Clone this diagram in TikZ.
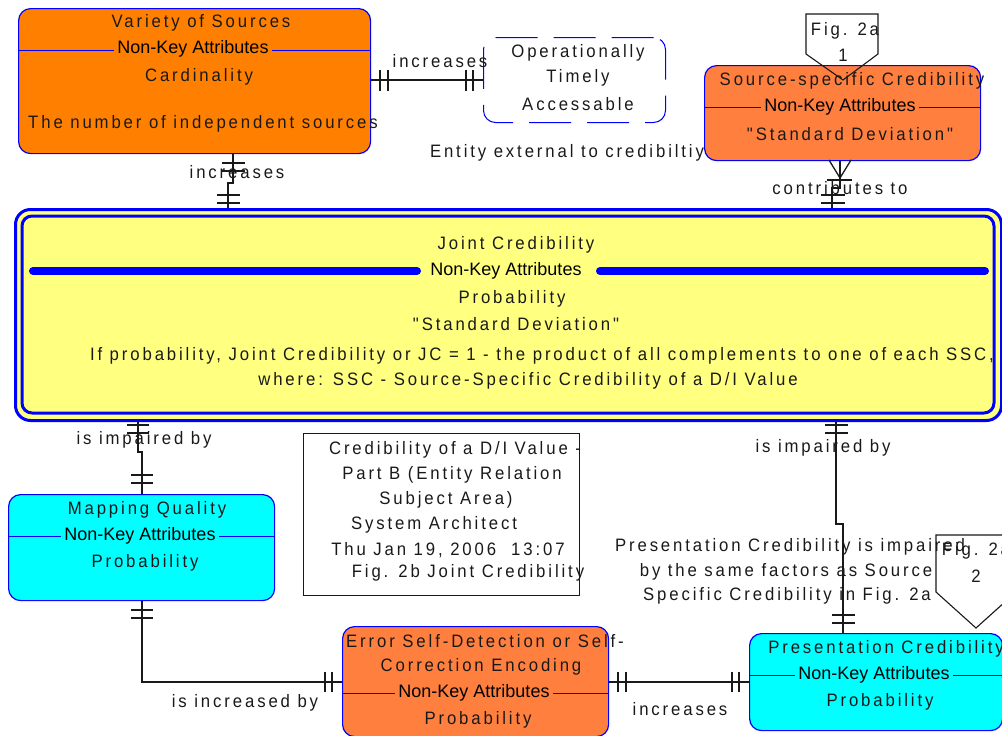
\documentclass[tikz,border=0pt]{standalone}
\usepackage{fontspec}
\setmainfont{Liberation Sans}
\newfontfamily\spfont[LetterSpace=16,FakeStretch=0.93]{Liberation Sans}
\definecolor{vsor}{RGB}{255,128,0}
\definecolor{coral}{RGB}{255,127,63}
\definecolor{cy}{RGB}{0,255,255}
\definecolor{yel}{RGB}{255,255,128}
\definecolor{bl}{RGB}{0,0,255}
\definecolor{ink}{RGB}{25,25,25}
\begin{document}
\begin{tikzpicture}[x=1pt,y=-1pt,
  ent/.style={draw=bl, line width=1.2pt, rounded corners=12pt, inner sep=0pt, anchor=north west},
  txt/.style={font=\spfont\fontsize{18}{21}\selectfont, text=ink, inner sep=0pt},
  nka/.style={font=\fontsize{18}{21}\selectfont, text=black, inner sep=3pt},
  sep/.style={draw=bl, line width=1pt},
  con/.style={draw=ink, line width=1.3pt},
  tick/.style={draw=ink, line width=1.3pt}]
\useasboundingbox (0,0) rectangle (1002,736);

% helper coordinates
\coordinate (x138) at (138,0);
\coordinate (x142) at (142,0);
\coordinate (x228) at (228,0);
\coordinate (x233) at (233,0);
\coordinate (x832) at (832,0);
\coordinate (x836) at (836,0);
\coordinate (x840) at (840,0);
\coordinate (x843) at (843,0);
\coordinate (y682) at (0,682);

% ===== Variety of Sources =====
\node[ent, fill=vsor, minimum width=352pt, minimum height=145pt] (vs) at (18,8) {};
\draw[sep] (vs.west |- 0,50) -- (vs.east |- 0,50);
\node[txt] (vs1) at (201,23) {Variety of Sources};
\node[nka, fill=vsor] (vs2) at (193,49) {Non-Key Attributes};
\node[txt] (vs3) at (199,77) {Cardinality};
\node[txt] (vs4) at (203,124) {The number of independent sources};

% ===== Operationally Timely Accessable =====
\node[ent, draw=bl, line width=1pt, dash pattern=on 42pt off 16pt, minimum width=182pt, minimum height=85pt] (ops) at (483,37) {};
\node[txt] (ops1) at (578,53) {Operationally};
\node[txt] (ops2) at (578,78) {Timely};
\node[txt] (ops3) at (578,104) {Accessable};
\node[txt] (extl) at (567,153) {Entity external to credibiltiy};

% ===== Source-specific Credibility =====
\node[ent, fill=coral, minimum width=276pt, minimum height=95pt] (ss) at (704,65) {};
\draw[sep] (ss.west |- 0,107) -- (ss.east |- 0,107);
\node[txt] (ss1) at (852,81) {Source-specific Credibility};
\node[nka, fill=coral] (ss2) at (840,107) {Non-Key Attributes};
\node[txt] (ss3) at (850,134) {"Standard Deviation"};
% off-page connector Fig. 2a 1
\draw[draw=ink, line width=1.1pt] (806,14) -- (878,14) -- (878,54) -- (843,80) -- (806,54) -- cycle;
\node[txt] (fig1a) at (845,31) {Fig. 2a};
\node[txt] (fig1b) at (843,55) {1};

% ===== Joint Credibility =====
\node[ent, fill=yel, line width=3pt, rounded corners=15pt, minimum width=986pt, minimum height=211pt] (joint) at (14,208) {};
\draw[draw=bl, line width=3pt, rounded corners=10pt] (22,216) rectangle (994,413);
\draw[draw=bl, line width=8pt, line cap=round] (33,271) -- (417,271);
\draw[draw=bl, line width=8pt, line cap=round] (600,271) -- (985,271);
\node[txt] (j1) at (516,245) {Joint Credibility};
\node[nka] (j2) at (506,271) {Non-Key Attributes};
\node[txt] (j3) at (512,299) {Probability};
\node[txt] (j4) at (516,324) {"Standard Deviation"};
\node[txt] (j5) at (542,356) {If probability, Joint Credibility or JC = 1 - the product of all complements to one of each SSC,};
\node[txt] (j6) at (528,381) {where: SSC - Source-Specific Credibility of a D/I Value};

% ===== Mapping Quality =====
\node[ent, fill=cy, minimum width=266pt, minimum height=106pt] (mq) at (8,494) {};
\draw[sep] (mq.west |- 0,536) -- (mq.east |- 0,536);
\node[txt] (mq1) at (147,510) {Mapping Quality};
\node[nka, fill=cy] (mq2) at (140,536) {Non-Key Attributes};
\node[txt] (mq3) at (145,563) {Probability};

% ===== Title box =====
\node[draw=ink, line width=1.1pt, minimum width=276pt, minimum height=162pt, anchor=north west, inner sep=0pt] (tb) at (303,433) {};
\node[txt] (tb1) at (455,450) {Credibility of a D/I Value -};
\node[txt] (tb2) at (452,475) {Part B (Entity Relation};
\node[txt] (tb3) at (446,500) {Subject Area)};
\node[txt] (tb4) at (434,525) {System Architect};
\node[txt] (tb5) at (448,550) {Thu Jan 19, 2006\ \ 13:07};
\node[txt] (tb6) at (468,573) {Fig. 2b Joint Credibility};

% ===== Error Self-Detection =====
\node[ent, fill=coral, minimum width=266pt, minimum height=110pt] (err) at (342,626) {};
\draw[sep] (err.west |- 0,693) -- (err.east |- 0,693);
\node[txt] (e1) at (485,641) {Error Self-Detection or Self-};
\node[txt] (e2) at (481,667) {Correction Encoding};
\node[nka, fill=coral] (e3) at (474,693) {Non-Key Attributes};
\node[txt] (e4) at (478,720) {Probability};

% ===== Presentation Credibility =====
\node[ent, fill=cy, minimum width=253pt, minimum height=97pt] (pc) at (749,633) {};
\draw[sep] (pc.west |- 0,675) -- (pc.east |- 0,675);
\node[txt] (p1) at (886,649) {Presentation Credibility};
\node[nka, fill=cy] (p2) at (874,675) {Non-Key Attributes};
\node[txt] (p3) at (880,702) {Probability};

% note
\node[txt] (n1) at (790,547) {Presentation Credibility is impaired};
\node[txt] (n2) at (786,572) {by the same factors as Source};
\node[txt] (n3) at (787,596) {Specific Credibility in Fig. 2a};
% off-page connector Fig. 2a 2
\draw[draw=ink, line width=1.1pt] (936,535) -- (1016,535) -- (1016,592) -- (976,628) -- (936,592) -- cycle;
\node[txt] (fig2a) at (976,551) {Fig. 2a};
\node[txt] (fig2b) at (976,576) {2};

% ===== connectors =====
% vs -> ops
\draw[con] (vs.east |- ops.west) -- (ops.west);
\foreach \x in {380,388,466,473} \draw[tick] (\x,70) -- (\x,91);
\node[txt] (l1) at (440,61) {increases};

% vs -> joint
\draw[con] (vs.south -| x233) -- (233,183) -- (228,183) -- (joint.north -| x228);
\foreach \y in {163,171} \draw[tick] (222,\y) -- (245,\y);
\foreach \y in {195,203} \draw[tick] (217,\y) -- (240,\y);
\node[txt] (l2) at (237,172) {increases};

% ss -> joint
\draw[con] (ss.south -| x840) -- (840,188) -- (832,188) -- (joint.north -| x832);
\draw[con] (829,160) -- (840,178) -- (851,160);
\draw[tick] (827,180) -- (852,180);
\foreach \y in {195,203} \draw[tick] (821,\y) -- (845,\y);
\node[txt] (l3) at (840,188) {contributes to};

% joint -> mq
\draw[con] (joint.south -| x138) -- (138,452) -- (142,452) -- (mq.north -| x142);
\foreach \y in {425,433} \draw[tick] (127,\y) -- (149,\y);
\foreach \y in {475,483} \draw[tick] (131,\y) -- (153,\y);
\node[txt] (l4) at (144,440) {is impaired by};

% mq -> err
\draw[con] (mq.south -| x142) -- (142,682) -- (err.west |- y682);
\foreach \y in {610,618} \draw[tick] (131,\y) -- (153,\y);
\foreach \x in {325,332} \draw[tick] (\x,672) -- (\x,692);
\node[txt] (l5) at (245,703) {is increased by};

% err -> pc
\draw[con] (err.east |- y682) -- (pc.west |- y682);
\foreach \x in {618,626,732,739} \draw[tick] (\x,672) -- (\x,692);
\node[txt] (l6) at (680,709) {increases};

% joint -> pc
\draw[con] (joint.south -| x836) -- (836,524) -- (843,524) -- (pc.north -| x843);
\foreach \y in {425,433} \draw[tick] (825,\y) -- (848,\y);
\foreach \y in {615,623} \draw[tick] (832,\y) -- (855,\y);
\node[txt] (l7) at (823,448) {is impaired by};
\end{tikzpicture}
\end{document}
